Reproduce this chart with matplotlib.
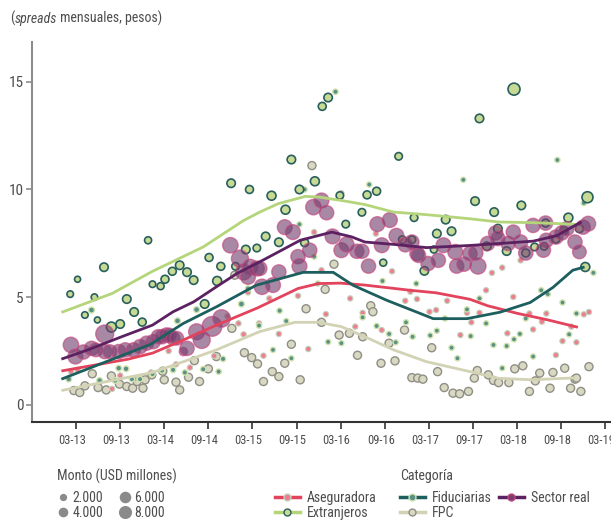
import matplotlib
matplotlib.use("Agg")
import matplotlib.pyplot as plt
import matplotlib.transforms as mtransforms
from matplotlib import font_manager
from matplotlib.lines import Line2D

# months counted from Jan 2013 (0 = 01-13)
# --- trend lines ---
aseg_line_m = [0, 9.1, 12.4, 16.6, 21.1, 26.7, 32.2, 35.0, 38, 41.3, 47.4, 51, 55.6, 58, 62, 66.1, 70.3]
aseg_line_v = [1.57, 2.12, 2.4, 3.01, 3.7, 4.5, 5.4, 5.63, 5.65, 5.56, 5.32, 5.2, 4.9, 4.6, 4.25, 3.95, 3.6]

ext_line_m = [0, 6.9, 12.4, 19.3, 24.8, 27, 29.5, 33.2, 35, 38.1, 41.3, 45.2, 49.7, 55.6, 59.5, 64, 70.3]
ext_line_v = [4.29, 5.17, 6.2, 7.33, 8.56, 8.95, 9.34, 9.68, 9.65, 9.49, 9.3, 8.95, 8.83, 8.64, 8.49, 8.46, 8.38]

fid_line_m = [0, 12.1, 16.6, 21.1, 26.5, 32.9, 37, 39.7, 44.3, 48.4, 50.6, 55.2, 59.7, 63.8, 66.9, 69.6, 71.2]
fid_line_v = [1.19, 2.8, 3.78, 4.55, 5.55, 6.15, 6.15, 5.55, 4.85, 4.3, 4.0, 4.0, 4.3, 4.75, 5.45, 6.25, 6.4]

fpc_line_m = [0, 12.4, 16.6, 21.1, 27.0, 31.8, 35.0, 38.1, 41.3, 45.2, 49.7, 55.6, 59.5, 64, 69.9]
fpc_line_v = [0.66, 1.5, 2.0, 2.55, 3.4, 3.83, 3.83, 3.63, 3.16, 2.55, 2.0, 1.54, 1.23, 1.16, 1.25]

real_line_m = [0, 3.6, 8.2, 12.4, 15.2, 18.0, 21.1, 23.9, 27.0, 29.1, 32.5, 36.8, 39.5, 41.3, 45.2, 49.7, 55.6, 60, 64.2, 67.4, 70.8]
real_line_v = [2.12, 2.55, 3.16, 3.7, 4.32, 4.78, 5.48, 6.1, 6.64, 7.02, 7.64, 8.02, 7.8, 7.56, 7.45, 7.3, 7.4, 7.5, 7.6, 7.85, 8.5]

# --- monthly points: month, spread, monto (USD millones) ---
ext_m = [1.2, 2.2, 3.2, 4.5, 4.9, 5.8, 6.8, 8.0, 8.9, 9.9, 11.0, 11.8, 12.4, 13.5, 14.1, 15.1, 16.1, 17.1,
         18.0, 19.5, 20.1, 21.2, 21.7, 23.1, 23.7, 25.1, 25.6, 26.6, 27.8, 28.6, 29.6, 30.5, 31.3, 32.4,
         33.1, 34.5, 35.5, 36.3, 37.9, 38.7, 40.9, 41.6, 42.9, 43.8, 45.9, 46.4, 47.7, 48.0, 49.4, 50.7,
         51.1, 52.3, 53.1, 56.3, 56.9, 57.9, 58.9, 59.4, 60.6, 61.6, 62.6, 63.2, 64.4, 65.7, 65.9, 67.3,
         68.4, 69.0, 70.5, 71.6, 71.3]
ext_v = [5.14, 5.83, 4.17, 5.0, 3.94, 6.39, 3.61, 3.75, 4.91, 4.31, 3.84, 7.64, 5.6, 5.51, 5.83, 6.2, 6.48, 6.16,
         5.79, 4.68, 6.84, 5.75, 6.43, 10.29, 6.43, 7.21, 10.0, 7.28, 7.82, 9.71, 7.55, 9.06, 11.39, 10.0,
         7.53, 10.38, 13.86, 14.27, 9.72, 8.39, 8.94, 9.75, 9.92, 6.6, 11.54, 7.67, 7.67, 8.69, 6.22, 7.21,
         7.95, 8.6, 8.06, 9.46, 13.3, 7.36, 8.95, 8.18, 7.14, 14.66, 9.26, 7.05, 7.33, 7.36, 8.44, 7.7,
         8.1, 8.69, 8.18, 9.64, 6.4]
ext_a = [2500, 2100, 2500, 2500, 2100, 4200, 5800, 4200, 4200, 4200, 3700, 2900, 2500, 2900, 3700, 3700, 4200, 4200,
         4200, 4200, 3700, 4700, 3700, 4200, 3300, 4200, 3700, 3300, 4200, 4700, 4200, 4700, 4200, 4200,
         3700, 4700, 3700, 4200, 3300, 3300, 3300, 3700, 3700, 2900, 3300, 3300, 3300, 3300, 4200, 2900,
         4200, 4200, 4200, 4200, 4200, 4200, 4200, 4200, 4200, 8400, 4200, 3700, 3300, 3300, 3700, 3700,
         3700, 4700, 3700, 7100, 4700]

real_m = [1.3, 1.9, 3.0, 4.1, 4.7, 5.9, 5.9, 6.6, 7.8, 8.7, 9.8, 10.7, 11.6, 12.5, 13.2, 13.7, 14.3, 14.7,
          15.2, 15.7, 16.6, 17.1, 18.4, 19.1, 20.5, 21.8, 23.0, 24.3, 24.8, 25.7, 25.4, 26.6, 27.0, 27.3,
          28.8, 29.6, 30.4, 31.5, 32.2, 32.4, 33.8, 34.3, 35.4, 36.1, 36.9, 38.1, 38.8, 40.2, 40.9, 41.8,
          43.0, 44.7, 45.6, 43.6, 46.8, 47.7, 48.4, 48.6, 49.9, 51.3, 52.0, 53.6, 53.8, 54.8, 55.6, 56.7,
          56.4, 58.0, 59.1, 59.4, 60.8, 61.5, 62.5, 63.2, 64.2, 65.9, 66.0, 65.6, 67.3, 68.1, 68.8, 69.9,
          70.5, 71.0, 71.7]
real_v = [2.78, 2.24, 2.45, 2.62, 2.55, 3.29, 2.47, 2.47, 2.47, 2.55, 2.55, 2.70, 2.86, 2.93, 3.16, 3.16, 3.24, 3.24,
          3.09, 3.09, 2.47, 2.62, 3.39, 3.01, 3.64, 4.01, 7.41, 6.79, 6.17, 6.40, 5.94, 6.33, 6.33, 5.48,
          5.56, 6.17, 8.25, 8.02, 6.88, 6.44, 7.18, 9.18, 9.49, 8.92, 7.82, 7.18, 7.45, 7.13, 7.13, 6.44,
          8.39, 8.58, 7.85, 7.41, 7.43, 7.56, 7.02, 6.94, 6.56, 6.71, 7.41, 7.10, 6.44, 6.53, 7.02, 6.44,
          7.05, 7.49, 7.98, 7.72, 7.49, 8.02, 7.56, 7.05, 8.33, 8.44, 7.64, 7.18, 7.79, 7.98, 8.18, 7.56,
          7.10, 8.25, 8.41]
real_a = [14000, 13000, 12000, 12000, 11000, 19000, 12000, 11000, 12000, 12000, 12000, 12000, 12000, 12000, 12000, 12000, 12000, 11000,
          11000, 11000, 4000, 12000, 15000, 17000, 23000, 18000, 14000, 17000, 15000, 14000, 13000, 13000, 12000, 14000,
          13000, 12000, 13000, 13000, 12000, 13000, 12000, 14000, 13000, 12000, 13000, 13000, 13000, 12000, 12000, 12000,
          13000, 13000, 13000, 13000, 12000, 12000, 12000, 12000, 12000, 12000, 13000, 13000, 12000, 12000, 12000, 15000,
          12000, 12000, 12000, 12000, 12000, 12000, 12000, 12000, 12000, 12000, 12000, 12000, 12000, 12000, 12000, 12000,
          11000, 12000, 13000]

fid_m = [1.0, 4.1, 5.2, 7.3, 7.8, 8.8, 9.6, 10.7, 12.4, 13.7, 15.2, 15.8, 16.8, 18.4, 19.3, 21.4, 22.0, 24.5, 25.4,
         26.9, 28.8, 29.7, 30.6, 31.3, 32.4, 33.1, 34.4, 34.9, 36.3, 37.3, 38.1, 41.0, 41.9, 42.9, 43.7, 44.6,
         45.5, 46.9, 47.8, 48.3, 50.2, 51.1, 52.2, 53.1, 53.9, 54.7, 55.2, 55.7, 56.9, 57.8, 58.8, 60.0, 60.6,
         61.6, 62.4, 63.2, 64.2, 65.3, 66.2, 67.5, 68.2, 69.1, 70.1, 71.1, 72.4]
fid_v = [1.19, 4.4, 1.13, 1.13, 1.7, 1.67, 1.19, 1.19, 1.43, 1.59, 1.62, 3.9, 1.5, 4.42, 1.65, 1.54, 2.13, 4.68, 5.4,
         3.68, 2.55, 4.37, 3.89, 2.16, 8.38, 10.0, 6.88, 5.63, 2.92, 14.54, 2.86, 4.06, 10.23, 3.66, 5.75, 3.29,
         2.9, 3.83, 3.16, 5.63, 3.22, 3.44, 4.01, 2.65, 2.16, 10.45, 4.43, 3.19, 4.94, 3.78, 2.78, 1.7, 2.73,
         3.04, 3.29, 4.01, 2.24, 5.32, 5.14, 11.37, 4.75, 3.27, 4.24, 9.37, 6.13]
fid_a = [1900, 2100, 1900, 1900, 1900, 1900, 1700, 1700, 1700, 1700, 1700, 2100, 1700, 2100, 1700, 1700, 1700, 2100, 1700,
         1700, 1600, 1700, 1600, 1600, 1600, 1600, 1600, 1600, 1600, 1700, 1600, 1600, 1600, 1600, 1600, 1600,
         1600, 1600, 1600, 1600, 1600, 1600, 1600, 1600, 1600, 1600, 1600, 1600, 1600, 1600, 1600, 1600, 1600,
         1600, 1600, 1600, 1600, 1600, 1600, 1600, 1600, 1600, 1600, 1600, 1600]

aseg_m = [1.3, 2.2, 6.9, 8.0, 9.9, 12.2, 14.6, 15.6, 17.5, 20.8, 22.6, 24.1, 24.8, 25.4, 26.9, 27.5, 28.3, 29.6,
          32.2, 33.6, 34.4, 35.4, 36.0, 38.1, 39.3, 40.0, 41.0, 42.8, 43.6, 45.0, 46.8, 47.5, 48.4, 50.1, 51.0,
          52.5, 54.3, 55.2, 55.8, 56.9, 57.8, 58.6, 60.0, 60.7, 61.5, 62.5, 63.7, 64.2, 65.4, 66.0, 67.3, 68.2,
          69.4, 70.1, 71.1, 71.8]
aseg_v = [1.54, 1.62, 0.74, 1.36, 1.2, 1.5, 2.5, 1.88, 1.73, 2.27, 4.12, 3.78, 3.27, 5.22, 3.78, 2.28, 4.94, 3.29,
          5.06, 2.59, 8.02, 6.25, 4.21, 9.83, 4.94, 3.63, 4.27, 7.95, 3.47, 6.2, 4.83, 5.25, 4.91, 4.32, 4.4,
          4.83, 3.24, 4.27, 3.83, 4.27, 5.32, 6.13, 6.37, 3.32, 5.01, 6.71, 4.24, 3.5, 3.86, 4.24, 2.31, 2.96,
          3.63, 2.9, 4.2, 4.31]
aseg_a = [1700] * len(aseg_m)

fpc_m = [1.7, 2.5, 3.2, 4.2, 5.0, 6.1, 6.8, 7.9, 8.9, 9.7, 10.3, 11.1, 11.4, 12.3, 13.8, 14.0, 15.6, 16.1, 17.3,
         18.1, 18.8, 20.0, 21.1, 23.2, 23.6, 24.9, 25.9, 26.7, 27.5, 28.7, 29.6, 30.4, 31.3, 32.5, 33.3, 34.1,
         35.4, 35.9, 37.1, 37.8, 39.2, 40.3, 41.0, 42.1, 42.4, 43.5, 44.6, 45.4, 46.7, 47.7, 48.5, 49.2, 50.4,
         51.2, 52.1, 53.3, 54.2, 55.4, 56.2, 56.6, 58.1, 58.8, 59.5, 60.9, 61.7, 62.8, 63.7, 64.5, 65.1, 66.5,
         66.9, 68.5, 69.3, 69.9, 70.1, 70.7, 71.8]
fpc_v = [0.66, 0.57, 0.88, 1.44, 0.8, 0.69, 1.34, 0.96, 0.85, 0.77, 1.08, 0.77, 1.16, 1.39, 1.56, 1.16, 1.05, 0.69, 1.28,
         2.05, 1.08, 1.67, 2.24, 3.55, 6.02, 2.42, 2.19, 1.9, 1.08, 1.54, 1.31, 1.93, 2.81, 1.16, 4.46, 11.11,
         3.83, 5.36, 6.53, 3.24, 3.32, 2.3, 3.16, 4.6, 4.32, 1.93, 2.86, 2.04, 3.47, 1.26, 1.24, 1.19, 2.65,
         1.54, 0.8, 0.54, 0.51, 0.62, 1.24, 1.59, 1.39, 1.13, 1.03, 1.03, 1.67, 1.81, 0.62, 1.11, 1.47, 0.77,
         1.5, 1.7, 0.77, 1.19, 1.24, 0.62, 1.77]
fpc_a = [3800] * len(fpc_m)

tick_months = [2, 8, 14, 20, 26, 32, 38, 44, 50, 56, 62, 68, 74]
tick_labels = ["03-13", "09-13", "03-14", "09-14", "03-15", "09-15", "03-16",
               "09-16", "03-17", "09-17", "03-18", "09-18", "03-19"]
legend_montos = [2000, 4000, 6000, 8000]
legend_montos_txt = ["2.000", "4.000", "6.000", "8.000"]

SIZE_SCALE = 1 / 113.0  # monto -> marker area (pt^2)

# font: a narrow family if one is installed
avail = {f.name for f in font_manager.fontManager.ttflist}
family = "Roboto"
for cand in ["Liberation Sans Narrow", "Roboto Condensed", "Roboto"]:
    if cand in avail:
        family = cand
        break
plt.rcParams["font.family"] = [family, "DejaVu Sans"]

TXT = "#4d4d4d"

styles = {
    "Aseguradora": dict(line="#e2435d", face="#ee7d8f", edge="#c2d3bb", lw=0.8),
    "Extranjeros": dict(line="#b5d57b", face="#c6da94", edge="#2a5f5f", lw=1.2),
    "Fiduciarias": dict(line="#1d5f5e", face="#5a9086", edge="#d2e4ae", lw=1.0),
    "FPC": dict(line="#d2d2b4", face="#d9d8c2", edge="#8f8f85", lw=1.0),
    "Sector real": dict(line="#5c2161", face="#73406f", edge="#c4437c", lw=1.0),
}

fig = plt.figure(figsize=(6.11, 5.24), dpi=100)
ax = fig.add_axes([32 / 611, 1 - 422 / 524, 1 - 32 / 611, (422 - 42) / 524])

def pts(m, v, a, key, z, alpha=1.0):
    st = styles[key]
    ax.scatter(m, v, s=[x * SIZE_SCALE for x in a], facecolor=st["face"], edgecolor=st["edge"],
               linewidth=st["lw"], alpha=alpha, zorder=z)

pts(fpc_m, fpc_v, fpc_a, "FPC", 2)
pts(aseg_m, aseg_v, aseg_a, "Aseguradora", 3)
pts(fid_m, fid_v, fid_a, "Fiduciarias", 3)
pts(ext_m, ext_v, ext_a, "Extranjeros", 4)
pts(real_m, real_v, real_a, "Sector real", 5, alpha=0.62)

lines = [("FPC", fpc_line_m, fpc_line_v), ("Aseguradora", aseg_line_m, aseg_line_v),
         ("Fiduciarias", fid_line_m, fid_line_v), ("Extranjeros", ext_line_m, ext_line_v),
         ("Sector real", real_line_m, real_line_v)]
for key, m, v in lines:
    ax.plot(m, v, color=styles[key]["line"], linewidth=2.0, zorder=6, solid_capstyle="butt")

ax.set_xlim(-4, 74.8)
ax.set_ylim(-0.8, 16.85)
ax.set_yticks([0, 5, 10, 15])
ax.set_xticks(tick_months)
ax.set_xticklabels(tick_labels)
for s in ("top", "right"):
    ax.spines[s].set_visible(False)
ax.spines["left"].set_color("#8c8c8c")
ax.spines["left"].set_linewidth(1.5)
ax.spines["bottom"].set_color("#333333")
ax.spines["bottom"].set_linewidth(1.5)
ax.tick_params(axis="y", length=4, width=1.2, color="#8c8c8c", labelsize=11, labelcolor=TXT, pad=2)
ax.tick_params(axis="x", length=5, width=1.2, color="#333333", labelsize=9, labelcolor=TXT, pad=4)
shift = mtransforms.ScaledTranslation(-0.04, 0, fig.dpi_scale_trans)
for lab in ax.get_xticklabels():
    lab.set_transform(lab.get_transform() + shift)

# subtitle
t1 = fig.text(10 / 611, 1 - 18 / 524, "(", fontsize=10, color=TXT, va="center")
t2 = ax.annotate("spreads", xy=(1, 0), xycoords=t1, va="bottom", ha="left",
                 fontsize=10, color=TXT, style="italic", annotation_clip=False)
ax.annotate(" mensuales, pesos)", xy=(1, 0), xycoords=t2, va="bottom", ha="left",
            fontsize=10, color=TXT, annotation_clip=False)

# size legend
fig.text(57 / 611, 1 - 476 / 524, "Monto (USD millones)", fontsize=10, color=TXT, va="center")
size_handles = [Line2D([], [], ls="", marker="o", color="#8a8a8a",
                       markersize=(a * SIZE_SCALE) ** 0.5) for a in legend_montos]
fig.legend(size_handles, legend_montos_txt, loc="upper left", bbox_to_anchor=(52 / 611, 1 - 484 / 524),
           ncol=2, frameon=False, fontsize=10, handlelength=0.6, handletextpad=0.35,
           columnspacing=1.3, labelspacing=0.1, borderpad=0, labelcolor=TXT)

# category legend: three column groups placed like the original
fig.text(400 / 611, 1 - 476 / 524, "Categoría", fontsize=10, color=TXT, va="center")
cats = ["Aseguradora", "Extranjeros", "Fiduciarias", "FPC", "Sector real"]
cat_handles = {c: Line2D([], [], color=styles[c]["line"], linewidth=2.5, marker="o", markersize=5,
                         markerfacecolor=styles[c]["face"], markeredgecolor=styles[c]["edge"])
               for c in cats}
for group, x0 in ((cats[0:2], 268), (cats[2:4], 393), (cats[4:], 492)):
    fig.legend([cat_handles[c] for c in group], group, loc="upper left",
               bbox_to_anchor=(x0 / 611, 1 - 484 / 524), ncol=1, frameon=False, fontsize=10,
               handlelength=1.8, handletextpad=0.5, labelspacing=0.1, borderpad=0, labelcolor=TXT)

fig.savefig("out.png", dpi=100)
